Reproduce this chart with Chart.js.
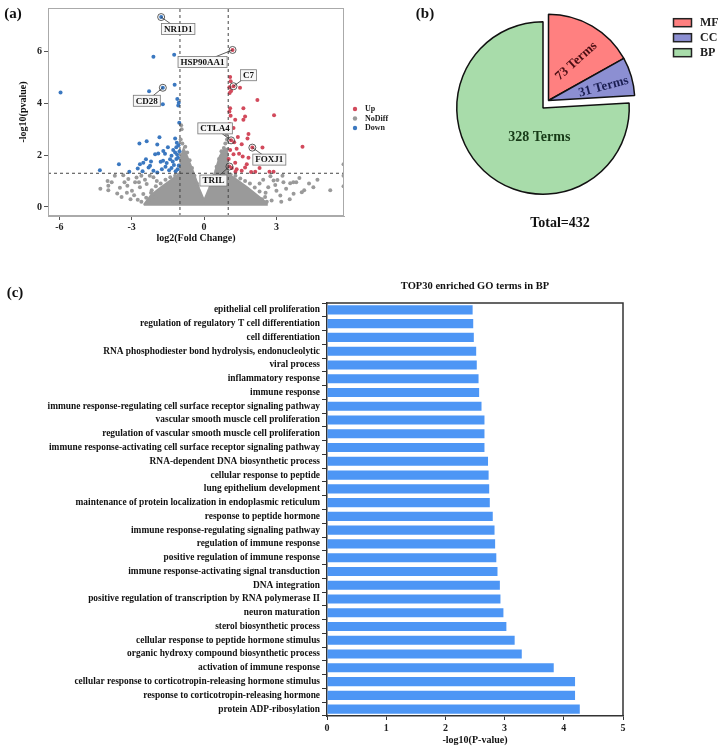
<!DOCTYPE html>
<html>
<head>
<meta charset="utf-8">
<script src="https://cdn.jsdelivr.net/npm/chart.js@4.4.0/dist/chart.umd.min.js"></script>
<style>
body{margin:0;background:#fff;}
#wrap{position:relative;width:725px;height:748px;font-family:'Liberation Serif','Times New Roman',serif;font-weight:bold;color:#111;}
canvas{position:absolute;}
.lbl{position:absolute;white-space:nowrap;transform:translate(-50%,-50%);}
</style>
</head>
<body>
<div id="wrap">
  <canvas id="volcano" width="400" height="252" style="left:0;top:0"></canvas>
  <canvas id="pie" width="325" height="250" style="left:400px;top:0"></canvas>
  <canvas id="bars" width="725" height="478" style="left:0;top:270px"></canvas>
  <div class="lbl" style="left:13px;top:13px;font-size:15px">(a)</div>
  <div class="lbl" style="left:425px;top:13px;font-size:15px">(b)</div>
  <div class="lbl" style="left:560px;top:223px;font-size:14px">Total=432</div>
  <div class="lbl" style="left:15px;top:292px;font-size:15px">(c)</div>
  <div class="lbl" style="left:475px;top:285px;font-size:10.5px">TOP30 enriched GO terms in BP</div>
</div>
<script>
'use strict';

const serif = "'Liberation Serif', 'Times New Roman', serif";
Chart.defaults.font.family = serif;
Chart.defaults.font.weight = 'bold';
Chart.defaults.color = '#111';
Chart.defaults.animation = false;

// ---------- (a) volcano: [log2 fold change, -log10 p]
const upPoints = [
  [1.18,6.06],[1.22,4.66],[1.08,5.02],[1.10,4.85],[1.05,4.62],[1.12,4.48],[1.06,4.40],[1.49,4.60],
  [2.21,4.13],[1.63,3.81],[1.08,3.81],[1.05,3.68],[1.10,3.52],[1.70,3.49],[1.63,3.37],[1.29,3.37],
  [2.90,3.54],[1.05,3.20],[1.22,3.05],[1.12,2.57],[1.84,2.82],[1.80,2.64],[1.40,2.70],[1.25,2.50],
  [2.00,2.29],[2.42,2.29],[4.08,2.32],[1.56,2.42],[1.35,2.25],[1.22,2.03],[1.45,2.05],[1.84,1.90],
  [1.29,1.71],[1.77,1.65],[1.05,1.56],[1.15,1.50],[1.35,1.45],[1.56,1.40],[2.12,1.36],[2.71,1.36],
  [2.88,1.36],[1.30,1.36],[1.70,1.52],[1.02,1.85],[1.08,2.20],[1.60,1.95],[2.30,1.50],[1.95,1.35]
];
const downPoints = [
  [-5.95,4.42],[-1.78,7.33],[-2.10,5.80],[-1.24,5.88],[-1.71,4.60],[-2.28,4.47],[-1.71,3.96],[-1.22,4.72],
  [-1.11,4.17],[-1.05,4.02],[-1.07,3.92],[-1.03,3.25],[-4.32,1.42],[-3.53,1.65],[-3.10,1.36],[-2.68,2.45],
  [-2.38,2.54],[-1.85,2.69],[-1.94,2.41],[-1.20,2.64],[-1.13,2.48],[-1.06,2.38],[-1.15,2.30],[-2.66,1.65],
  [-2.52,1.71],[-2.41,1.84],[-2.24,1.59],[-2.30,1.52],[-2.03,2.03],[-1.90,2.06],[-1.69,2.16],[-1.62,2.05],
  [-1.80,1.74],[-1.70,1.78],[-1.55,1.70],[-1.41,1.84],[-1.35,1.98],[-1.30,1.75],[-1.20,2.10],[-1.12,2.02],
  [-1.08,1.90],[-1.15,1.85],[-1.25,1.62],[-1.35,1.50],[-1.45,1.42],[-1.60,1.55],[-1.75,1.45],[-1.94,1.33],
  [-2.10,1.40],[-2.55,1.38],[-2.75,1.48],[-1.05,1.60],[-1.10,1.45],[-1.18,1.38],[-1.50,2.30],[-1.28,2.20],
  [-2.20,1.75],[-1.02,2.15]
];
const noDiffPoints = [
  [-0.95,3.15],[-0.93,3.00],[-0.97,2.60],[-0.90,2.45],[0.93,2.80],[0.95,2.60],[0.88,2.45],[0.90,3.00],
  [-0.78,2.32],[-0.70,2.10],[-0.60,1.80],[-0.50,1.50],[-0.40,1.20],[-0.30,0.90],[0.30,0.90],[0.42,1.20],
  [0.52,1.55],[0.62,1.85],[0.72,2.15],[0.82,2.28],[-1.05,1.25],[-1.20,1.20],[-1.40,1.15],[-1.60,1.05],
  [-1.80,0.90],[-2.00,0.80],[1.10,1.25],[1.30,1.20],[1.50,1.10],[1.70,1.00],[1.90,0.90],[2.10,0.75],
  [2.30,0.60],[-2.20,0.55],[-2.40,0.35],[2.40,0.30],[2.60,0.20],[-2.60,0.20],
  [-4.30,0.70],[-4.00,1.00],[-3.97,0.82],[-3.83,0.95],[-3.97,0.64],[-3.60,0.52],[-3.42,0.38],[-3.49,0.74],
  [-3.30,0.95],[-3.14,1.08],[-3.18,0.82],[-2.99,0.62],[-2.86,0.95],[-2.80,1.14],[-2.66,0.76],[-2.52,0.50],
  [-2.38,0.89],[-2.25,1.20],[-2.17,0.64],[-2.03,0.38],[-1.96,1.00],[-3.05,0.30],[-2.75,0.28],[-3.20,0.55],
  [-2.90,0.45],[-2.45,1.05],[-2.60,1.20],[-3.70,1.20],[-3.35,1.22],[-2.30,0.25],[-2.10,1.15],[-2.70,0.95],
  [2.88,1.02],[3.29,0.95],[3.57,0.91],[3.82,0.95],[3.71,0.51],[4.05,0.57],[4.53,0.76],[5.23,0.64],
  [5.78,1.65],[5.78,1.20],[5.78,0.80],[2.66,0.76],[2.53,0.38],[2.80,0.25],[3.16,0.44],[3.04,1.04],
  [3.70,0.95],[4.15,0.64],[3.40,0.70],[3.00,0.62],[2.75,1.18],[2.45,1.05],[2.30,0.90],[3.95,1.12],
  [4.35,0.90],[3.55,0.30],[3.20,0.20],[2.95,0.85],[4.70,1.05],[2.55,0.55],[3.25,1.20]
];
// outline of the solid NoDiff mass
const coreX = [-2.5,-2.2,-1.8,-1.5,-1.2,-1.0,-0.97,-0.85,-0.7,-0.45,-0.2,0,0.2,0.45,0.65,0.8,0.95,1.0,1.2,1.5,1.8,2.2,2.6,2.6,-2.5];
const coreY = [0.08,0.45,0.75,0.95,1.15,1.25,1.9,2.25,1.95,1.35,0.7,0.25,0.7,1.35,1.95,2.2,2.25,1.25,1.15,0.95,0.75,0.45,0.15,0.08,0.08];

const markedGenes = ['NR1D1','HSP90AA1','C7','CD28','CTLA4','FOXJ1','TRIL'];
const markedX = [-1.78,1.18,1.22,-1.71,1.12,2.00,1.05];
const markedY = [7.33,6.06,4.66,4.60,2.57,2.29,1.56];
const fcCut = 1;
const pCut = 1.3;

// label box offsets from the point, px
const labelShift = [[17,12],[-30,12],[15,-11],[-16,13],[-16,-12],[17,12],[-16,14]];

const xLim = [-6.47, 5.8];
const yLim = [-0.35, 7.68];

const colUp = '#d24a5c';
const colNo = '#9a9a9a';
const colDown = '#3b78c0';

const toXY = arr => arr.map(p => ({x: p[0], y: p[1]}));

const volcanoExtras = {
  id: 'volcanoExtras',
  afterDatasetsDraw(chart) {
    const {ctx, chartArea: a, scales: {x, y}} = chart;
    ctx.save();
    ctx.strokeStyle = '#aaa';
    ctx.lineWidth = 1;
    ctx.strokeRect(a.left + 0.5, a.top + 0.5, a.width - 1, a.height - 1);

    ctx.font = 'bold 9px ' + serif;
    ctx.textAlign = 'center';
    ctx.textBaseline = 'middle';
    markedGenes.forEach((g, i) => {
      const px = x.getPixelForValue(markedX[i]);
      const py = y.getPixelForValue(markedY[i]);
      const bx = px + labelShift[i][0];
      const by = py + labelShift[i][1];
      ctx.strokeStyle = '#333';
      ctx.lineWidth = 0.8;
      ctx.beginPath(); ctx.moveTo(px, py); ctx.lineTo(bx, by); ctx.stroke();
      ctx.beginPath(); ctx.arc(px, py, 3.5, 0, Math.PI * 2); ctx.stroke();
      const w = ctx.measureText(g).width + 5, h = 11;
      ctx.fillStyle = '#f7f7f7';
      ctx.fillRect(bx - w / 2, by - h / 2, w, h);
      ctx.strokeStyle = '#777';
      ctx.strokeRect(bx - w / 2, by - h / 2, w, h);
      ctx.fillStyle = '#111';
      ctx.fillText(g, bx, by + 0.5);
    });

    // legend
    const names = ['Up', 'NoDiff', 'Down'];
    const cols = [colUp, colNo, colDown];
    ctx.font = 'bold 8px ' + serif;
    ctx.textAlign = 'left';
    names.forEach((n, i) => {
      const ly = 109 + i * 9.5;
      ctx.fillStyle = cols[i];
      ctx.beginPath(); ctx.arc(355, ly, 2.2, 0, Math.PI * 2); ctx.fill();
      ctx.fillStyle = '#222';
      ctx.fillText(n, 365, ly);
    });
    ctx.restore();
  }
};

new Chart(document.getElementById('volcano'), {
  type: 'scatter',
  data: {
    datasets: [
      {type: 'line', data: [{x: -fcCut, y: yLim[0]}, {x: -fcCut, y: yLim[1]}], borderColor: '#444', borderWidth: 1, borderDash: [3, 3], pointRadius: 0, order: 0},
      {type: 'line', data: [{x: fcCut, y: yLim[0]}, {x: fcCut, y: yLim[1]}], borderColor: '#444', borderWidth: 1, borderDash: [3, 3], pointRadius: 0, order: 0},
      {type: 'line', data: [{x: xLim[0], y: pCut}, {x: xLim[1], y: pCut}], borderColor: '#444', borderWidth: 1, borderDash: [3, 3], pointRadius: 0, order: 0},
      {label: 'Up', data: toXY(upPoints), backgroundColor: colUp, pointRadius: 2, borderWidth: 0, order: 1},
      {label: 'Down', data: toXY(downPoints), backgroundColor: colDown, pointRadius: 2, borderWidth: 0, order: 1},
      {label: 'NoDiff', data: toXY(noDiffPoints), backgroundColor: colNo, pointRadius: 2, borderWidth: 0, order: 3},
      {type: 'line', data: coreX.map((v, i) => ({x: v, y: coreY[i]})), fill: 'shape', backgroundColor: colNo, borderColor: colNo, borderWidth: 2, pointRadius: 0, tension: 0, order: 4}
    ]
  },
  options: {
    responsive: false,
    layout: {padding: {left: 0, top: 5, right: 56, bottom: 0}},
    plugins: {legend: {display: false}, tooltip: {enabled: false}},
    scales: {
      x: {
        type: 'linear', min: xLim[0], max: xLim[1],
        afterBuildTicks: s => { s.ticks = [-6, -3, 0, 3].map(v => ({value: v})); },
        afterFit: s => { s.height = 36; },
        grid: {drawOnChartArea: false, tickLength: 4, color: '#555'},
        border: {color: '#aaa'},
        ticks: {font: {size: 10}, padding: 1, color: '#222'},
        title: {display: true, text: 'log2(Fold Change)', font: {size: 10}, padding: {top: 0, bottom: 8}}
      },
      y: {
        type: 'linear', min: yLim[0], max: yLim[1],
        afterBuildTicks: s => { s.ticks = [0, 2, 4, 6].map(v => ({value: v})); },
        afterFit: s => { s.width = 48; },
        grid: {drawOnChartArea: false, tickLength: 4, color: '#555'},
        border: {color: '#aaa'},
        ticks: {font: {size: 10}, padding: 2, color: '#222'},
        title: {display: true, text: '-log10(pvalue)', font: {size: 10}, padding: {top: 17, bottom: 0}}
      }
    }
  },
  plugins: [volcanoExtras]
});

// ---------- (b) GO class pie
const goClasses = ['MF', 'CC', 'BP'];
const goCounts = [73, 31, 328];
const goColors = ['#ff8080', '#8c8fd2', '#a8dcaa'];
const goTextColors = ['#4a0d12', '#1b1f52', '#173a17'];
const pieTextShift = [[27.7, -39.3, -42], [55, -13.7, -15], [-3.7, 29, 0]];

const pieExtras = {
  id: 'pieExtras',
  afterDatasetsUpdate(chart) {
    const arcs = chart.getDatasetMeta(0).data;
    // MF and CC pulled out together
    [0, 1].forEach(i => { arcs[i].x += 5.5; arcs[i].y -= 7.5; });
  },
  afterDatasetsDraw(chart) {
    const {ctx} = chart;
    const arcs = chart.getDatasetMeta(0).data;
    ctx.save();
    ctx.textAlign = 'center';
    ctx.textBaseline = 'middle';
    arcs.forEach((arc, i) => {
      const s = pieTextShift[i];
      ctx.save();
      ctx.translate(arc.x + s[0], arc.y + s[1]);
      ctx.rotate(s[2] * Math.PI / 180);
      ctx.font = (i === 2 ? 'bold 14px ' : 'bold 13px ') + serif;
      ctx.fillStyle = goTextColors[i];
      ctx.fillText(goCounts[i] + ' Terms', 0, 0);
      ctx.restore();
    });
    ctx.font = 'bold 12px ' + serif;
    ctx.textAlign = 'left';
    goClasses.forEach((c, i) => {
      const ly = 22.7 + i * 15;
      ctx.fillStyle = goColors[i];
      ctx.fillRect(273.5, ly - 4, 18, 8);
      ctx.strokeStyle = '#222';
      ctx.lineWidth = 1.5;
      ctx.strokeRect(273.5, ly - 4, 18, 8);
      ctx.fillStyle = '#222';
      ctx.fillText(c, 300, ly + 0.5);
    });
    ctx.restore();
  }
};

new Chart(document.getElementById('pie'), {
  type: 'pie',
  data: {
    labels: goClasses,
    datasets: [{data: goCounts, backgroundColor: goColors, borderColor: '#111', borderWidth: 1.5}]
  },
  options: {
    responsive: false,
    layout: {padding: {left: 56, top: 21, right: 95, bottom: 55}},
    plugins: {legend: {display: false}, tooltip: {enabled: false}}
  },
  plugins: [pieExtras]
});

// ---------- (c) top 30 BP terms
const goTerms = [
  'epithelial cell proliferation',
  'regulation of regulatory T cell differentiation',
  'cell differentiation',
  'RNA phosphodiester bond hydrolysis, endonucleolytic',
  'viral process',
  'inflammatory response',
  'immune response',
  'immune response-regulating cell surface receptor signaling pathway',
  'vascular smooth muscle cell proliferation',
  'regulation of vascular smooth muscle cell proliferation',
  'immune response-activating cell surface receptor signaling pathway',
  'RNA-dependent DNA biosynthetic process',
  'cellular response to peptide',
  'lung epithelium development',
  'maintenance of protein localization in endoplasmic reticulum',
  'response to peptide hormone',
  'immune response-regulating signaling pathway',
  'regulation of immune response',
  'positive regulation of immune response',
  'immune response-activating signal transduction',
  'DNA integration',
  'positive regulation of transcription by RNA polymerase II',
  'neuron maturation',
  'sterol biosynthetic process',
  'cellular response to peptide hormone stimulus',
  'organic hydroxy compound biosynthetic process',
  'activation of immune response',
  'cellular response to corticotropin-releasing hormone stimulus',
  'response to corticotropin-releasing hormone',
  'protein ADP-ribosylation'
];
const goScores = [
  2.46, 2.47, 2.48, 2.52, 2.53, 2.56, 2.57, 2.61, 2.66, 2.66,
  2.66, 2.72, 2.73, 2.74, 2.75, 2.80, 2.83, 2.84, 2.86, 2.88,
  2.92, 2.93, 2.98, 3.03, 3.17, 3.29, 3.83, 4.19, 4.19, 4.27
];

const frameLines = {
  id: 'frameLines',
  afterDraw(chart) {
    const {ctx, chartArea: a} = chart;
    ctx.save();
    ctx.strokeStyle = '#333';
    ctx.lineWidth = 1.5;
    ctx.beginPath();
    ctx.moveTo(a.left, a.top);
    ctx.lineTo(a.right, a.top);
    ctx.lineTo(a.right, a.bottom);
    ctx.stroke();
    ctx.restore();
  }
};

new Chart(document.getElementById('bars'), {
  type: 'bar',
  data: {
    labels: goTerms,
    datasets: [{data: goScores, backgroundColor: '#4d96f5', barPercentage: 0.66, categoryPercentage: 1}]
  },
  options: {
    indexAxis: 'y',
    responsive: false,
    layout: {padding: {left: 0, top: 33, right: 102, bottom: 0}},
    plugins: {legend: {display: false}, tooltip: {enabled: false}},
    scales: {
      x: {
        min: 0, max: 5,
        ticks: {stepSize: 1, font: {size: 10}, padding: 2, color: '#222'},
        grid: {drawOnChartArea: false, tickLength: 4, color: '#333'},
        border: {color: '#333', width: 1.5},
        title: {display: true, text: '-log10(P-value)', font: {size: 10}, padding: {top: 0, bottom: 2}},
        afterFit: s => { s.height = 32; }
      },
      y: {
        ticks: {font: {size: 9.4}, padding: 2, color: '#111', autoSkip: false},
        grid: {drawOnChartArea: false, tickLength: 5, color: '#333'},
        border: {color: '#333', width: 1.5},
        afterFit: s => { s.width = 327; }
      }
    }
  },
  plugins: [frameLines]
});
</script>
</body>
</html>
